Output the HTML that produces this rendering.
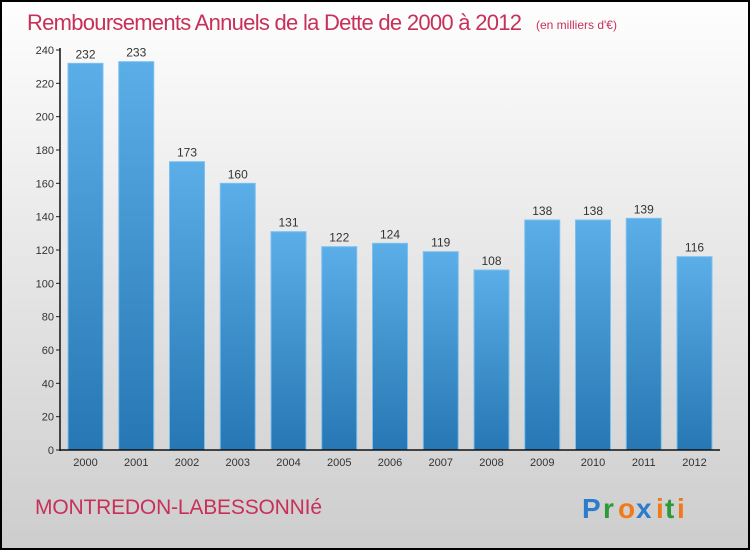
<!DOCTYPE html>
<html><head><meta charset="utf-8"><style>
body{margin:0;}
svg{display:block;font-family:"Liberation Sans",sans-serif;}
</style></head><body>
<svg id="c" width="750" height="550">
<defs>
<linearGradient id="bg" x1="0" y1="0" x2="0" y2="1"><stop offset="0" stop-color="#fefefe"/><stop offset="1" stop-color="#cdcdcd"/></linearGradient>
<linearGradient id="bar" x1="0" y1="0" x2="0" y2="1"><stop offset="0" stop-color="#5baee8"/><stop offset="1" stop-color="#2677b3"/></linearGradient>
</defs>
<rect x="1" y="1" width="748" height="548" fill="url(#bg)" stroke="#000" stroke-width="2"/>
<text x="27" y="30" font-size="22" fill="#c8305a" textLength="495">Remboursements Annuels de la Dette de 2000 à 2012</text>
<text x="536" y="29" font-size="12" fill="#c8305a">(en milliers d'€)</text>
<text x="35" y="514" font-size="21" fill="#c8305a" textLength="287">MONTREDON-LABESSONNIé</text>
<g font-size="28" font-weight="bold">
<text x="582" y="518" fill="#2d7ccc">P</text><text x="603" y="518" fill="#2d9a3a">r</text><text x="618" y="518" fill="#f07a1a">o</text><text x="636" y="518" fill="#2d7ccc">x</text><text x="656" y="518" fill="#f07a1a">i</text><text x="665" y="518" fill="#2d9a3a">t</text><text x="677" y="518" fill="#f07a1a">i</text>
</g>
<g id="plot"></g>
</svg>
<script>
const categories=["2000","2001","2002","2003","2004","2005","2006","2007","2008","2009","2010","2011","2012"];
const values=[232,233,173,160,131,122,124,119,108,138,138,139,116];
const yTicks=[0,20,40,60,80,100,120,140,160,180,200,220,240];
const NS="http://www.w3.org/2000/svg";
const g=document.getElementById('plot');
const y=v=>450-v*400/240;
const x=i=>68+i*50.75;
function mk(t,a,p){const e=document.createElementNS(NS,t);for(const k in a)e.setAttribute(k,a[k]);(p||g).appendChild(e);return e;}
yTicks.forEach(v=>{
 const t=mk('line',{x1:56,x2:60,y1:y(v),y2:y(v),stroke:'#222'});
 
 
 const l=mk('text',{x:54,y:y(v)+4,'font-size':11,'text-anchor':'end',fill:'#333'});
 l.textContent=v;
 
 
});
values.forEach((v,i)=>{
 const b=mk('rect',{x:x(i),y:y(v),width:35,height:450-y(v),fill:'url(#bar)',stroke:'#7cc0f0','stroke-width':1});
 
 
 const vl=mk('text',{x:x(i)+17.5,y:y(v)-5,'font-size':12,'text-anchor':'middle',fill:'#333'});
 vl.textContent=v;
 
 
 const cl=mk('text',{x:x(i)+17.5,y:466,'font-size':11,'text-anchor':'middle',fill:'#333'});
 cl.textContent=categories[i];
 
 
});
const ya=mk('line',{x1:60,x2:60,y1:48,y2:451,stroke:'#111','stroke-width':1.5});


const xa=mk('line',{x1:59,x2:720,y1:450,y2:450,stroke:'#111','stroke-width':1.5});


</script>
</body></html>
